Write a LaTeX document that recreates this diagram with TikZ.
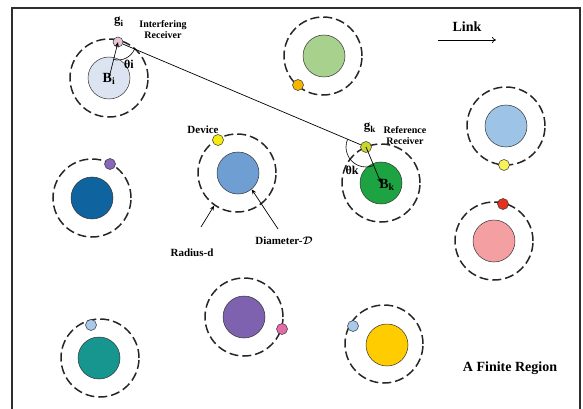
\documentclass[tikz,border=0pt]{standalone}
\usepackage{amsmath}
\usepackage{fontspec}
\setmainfont{Liberation Serif}
\usetikzlibrary{arrows.meta,angles}
\definecolor{frameC}{HTML}{2E2E2E}
\definecolor{cBi}{HTML}{DCE4F2}
\definecolor{cGi}{HTML}{E9C6D6}
\definecolor{cGreenA}{HTML}{A9D18E}
\definecolor{cOrange}{HTML}{F7B500}
\definecolor{cSky}{HTML}{9DC3E6}
\definecolor{cLemon}{HTML}{F7F25A}
\definecolor{cRose}{HTML}{F4A0A2}
\definecolor{cRed}{HTML}{E5331D}
\definecolor{cNavy}{HTML}{0F639E}
\definecolor{cLilac}{HTML}{8667B8}
\definecolor{cPurple}{HTML}{7F62AF}
\definecolor{cMagenta}{HTML}{E36BA8}
\definecolor{cMid}{HTML}{6F9ED2}
\definecolor{cYellow}{HTML}{F7EA0E}
\definecolor{cGreenB}{HTML}{1EA342}
\definecolor{cGk}{HTML}{C8D62F}
\definecolor{cTeal}{HTML}{17958F}
\definecolor{cPale}{HTML}{A8C8EC}
\definecolor{cGold}{HTML}{FFCC00}
\newcommand{\fsz}[1]{\bfseries\fontsize{#1}{#1}\selectfont}
\tikzset{
  cellrange/.style={circle, draw=black!85, line width=1.5pt,
    dash pattern=on 9pt off 4pt, minimum size=78pt, inner sep=0pt},
  station/.style={circle, draw=black!80, line width=0.5pt, fill=#1,
    minimum size=42pt, inner sep=0pt},
  device/.style={circle, draw=black!80, line width=0.5pt, fill=#1,
    minimum size=11pt, inner sep=0pt},
  lbl/.style={font=\fsz{11}, inner sep=0pt, align=center},
  small/.style={font=\fsz{10}, inner sep=0pt, align=center},
  big/.style={font=\fsz{14}, inner sep=0pt, align=center},
  link/.style={line width=0.7pt},
  pointer/.style={line width=0.7pt, -{Stealth[length=5pt,width=4pt]}},
}
\begin{document}
\begin{tikzpicture}[x=1pt,y=-1pt]
\useasboundingbox (0,0) rectangle (583,409);
% region boundary
\draw[frameC, line width=2pt] (12,409) -- (12,8) -- (580,8) -- (580,409);

% cells: dashed coverage range, base station, device
\node[cellrange] (r1) at (109,78) {};
\node[station=cBi] (bi) at (109,78) {};
\node[device=cGi, minimum size=10pt] (gi) at (118,42) {};

\node[cellrange] (r2) at (323,56) {};
\node[station=cGreenA] (s2) at (324,56) {};
\node[device=cOrange] (d2) at (298,85) {};

\node[cellrange] (r3) at (506,126) {};
\node[station=cSky] (s3) at (506,126) {};
\node[device=cLemon] (d3) at (504,165) {};

\node[cellrange] (r4) at (494,241) {};
\node[station=cRose] (s4) at (494,241) {};
\node[device=cRed] (d4) at (503,204) {};

\node[cellrange] (r5) at (92,198) {};
\node[station=cNavy] (s5) at (92,198) {};
\node[device=cLilac] (d5) at (110,164) {};

\node[cellrange] (r6) at (244,317) {};
\node[station=cPurple] (s6) at (244,317) {};
\node[device=cMagenta] (d6) at (282,329) {};

\node[cellrange] (r7) at (237,173) {};
\node[station=cMid] (s7) at (238,173) {};
\node[device=cYellow] (d7) at (218,140) {};

\node[cellrange] (r8) at (381,183) {};
\node[station=cGreenB] (bk) at (381,183) {};
\node[device=cGk] (gk) at (366,147) {};

\node[cellrange] (r9) at (100,358) {};
\node[station=cTeal] (s9) at (99,358) {};
\node[device=cPale] (d9) at (91,325) {};

\node[cellrange] (r10) at (384,344) {};
\node[station=cGold] (s10) at (387,345) {};
\node[device=cPale] (d10) at (353,326) {};

% links and angles
\draw[link] (gi) -- (gk);
\coordinate (bic) at (109,78);
\coordinate (gic) at (118,42);
\coordinate (gkc) at (366,147);
\coordinate (bkc) at (381,183);
\draw[pointer] (bic) -- (gic);
\draw[pointer] (gkc) -- (bkc);
\pic[draw, line width=0.6pt, angle radius=18pt] {angle = bic--gic--gkc};
\pic[draw, line width=0.6pt, angle radius=20pt] {angle = gic--gkc--bkc};

% labels
\node[lbl, font=\fsz{14}] (tbi) at (109,79) {B\textsubscript{i}};
\node[lbl, font=\fsz{14}] (tbk) at (387,185) {B\textsubscript{k}};
\node[lbl, font=\fsz{13}] (tgi) at (119,22) {g\textsubscript{i}};
\node[lbl, font=\fsz{13}] (tgk) at (370,128) {g\textsubscript{k}};
\node[lbl, font=\fsz{12}] (thi) at (129,64) {θi};
\node[lbl, font=\fsz{12}] (thk) at (352,170) {θk};
\node[small] (tint) at (163,30) {Interfering\\[1pt]Receiver};
\node[small] (tref) at (405,136) {Reference\\[1pt]Receiver};
\node[lbl] (tdev) at (203,130) {Device};
\node[lbl] (trad) at (192,253) {Radius-d};
\node[lbl] (tdia) at (284,241) {Diameter-$\boldsymbol{\mathcal{D}}$};
\node[big] (tlink) at (467,27) {Link};
\node[big] (treg) at (510,368) {A Finite Region};

% legend arrow and annotation arrows
\coordinate (la) at (438,40);
\coordinate (lb) at (496,40);
\draw[line width=0.7pt, -{To[length=4pt,width=6pt]}] (la) -- (lb);
\coordinate (ra) at (201,227);
\draw[pointer] (ra) -- (r7.235);
\coordinate (da) at (278,229);
\draw[pointer] (da) -- (s7.-50);
\end{tikzpicture}
\end{document}
